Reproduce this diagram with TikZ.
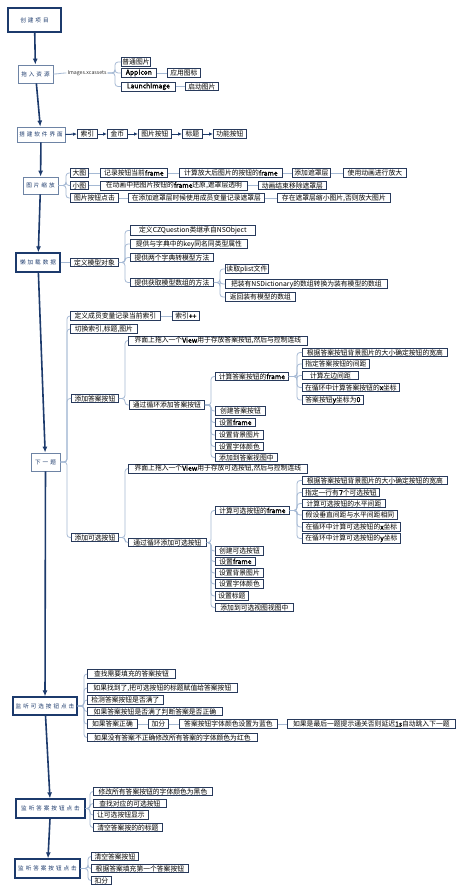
\documentclass[tikz,border=0pt]{standalone}
\usepackage{fontspec}
\setmainfont{Noto Sans CJK SC}[AutoFakeBold=2]
\newfontfamily\mfont{Noto Sans CJK SC}[LetterSpace=35]
\usetikzlibrary{arrows.meta}
\definecolor{navy}{RGB}{28,58,108}
\definecolor{boxline}{RGB}{40,58,92}
\definecolor{conncol}{RGB}{165,185,212}
\definecolor{mlight}{RGB}{110,132,165}
\tikzset{
 cbox/.style={draw=boxline, line width=0.8pt, fill=white, anchor=west, inner sep=1pt, minimum height=8.5pt, font=\fontsize{6.8}{7.5}\selectfont, text=black},
 mbox/.style={draw=navy, line width=1.3pt, fill=white, inner sep=1pt, font=\mfont\fontsize{5.6}{6.5}\selectfont, text=navy},
 mthin/.style={mbox, draw=mlight, line width=0.8pt},
 conn/.style={draw=conncol, line width=0.8pt, rounded corners=3pt},
 marrow/.style={draw=navy, line width=1.6pt, -{Latex[length=6pt,width=5pt]}},
 sarrow/.style={draw=navy, line width=1pt, -{Latex[length=4pt,width=3.5pt]}},
 lbl/.style={font=\fontsize{5.2}{6}\selectfont, text=black!80, inner sep=1pt}
}
\newcommand\mkbox[5]{\node[cbox, minimum width=#4pt] (#1) at (#2,#3) {#5};}
\newcommand\brc[3]{\draw[conn] (#1.east) -- (#3,0 |- #1.east) |- (#2.west);}
\newcommand\lnk[2]{\draw[conn] (#1.east) -- (#2.west);}
\begin{document}
\begin{tikzpicture}[x=1pt,y=-1pt]
\useasboundingbox (0,0) rectangle (464,894);
\fill[white] (0,0) rectangle (464,894);
% main nodes
\node[mbox, minimum width=53pt, minimum height=24pt, line width=1.8pt] (m1) at (34.5,20) {创建项目};
\node[mthin, minimum width=35pt, minimum height=18pt] (m2) at (35.5,74) {拖入资源};
\node[mthin, minimum width=48pt, minimum height=15pt] (m3) at (41,134.5) {搭建软件界面};
\node[mthin, minimum width=35pt, minimum height=17pt] (m4) at (40.5,185.5) {图片缩放};
\node[mbox, minimum width=44pt, minimum height=19pt] (m5) at (38,262.5) {懒加载数据};
\node[mthin, minimum width=29pt, minimum height=18pt] (m6) at (45.5,462) {下一题};
\node[mbox, minimum width=64pt, minimum height=18pt] (m7) at (45,706) {监听可选按钮点击};
\node[mbox, minimum width=69pt, minimum height=19pt] (m8) at (50.5,808.5) {监听答案按钮点击};
\node[mbox, minimum width=65pt, minimum height=19pt] (m9) at (47.5,868.5) {监听答案按钮点击};
\draw[marrow] (m1) -- (m2);
\draw[marrow] (m2) -- (m3);
\draw[marrow] (m3) -- (m4);
\draw[marrow] (m4) -- (m5);
\draw[marrow] (m5) -- (m6);
\draw[marrow] (m6) -- (m7);
\draw[marrow] (m7) -- (m8);
\draw[marrow] (m8) -- (m9);
% branch A
\node[lbl] (xc) at (87,73) {Images.xcassets};
\draw[conn] (m2.east) to[out=0,in=180] (xc.west);
\mkbox{a1}{121}{62}{27}{普通图片}
\mkbox{a2}{121}{73}{35}{\textbf{AppIcon}}
\mkbox{a3}{121}{86.5}{54}{\textbf{LaunchImage}}
\mkbox{a4}{167}{73}{33}{应用图标}
\mkbox{a5}{185}{86.5}{33}{启动图片}
\brc{xc}{a1}{115}\brc{xc}{a2}{115}\brc{xc}{a3}{115}
\lnk{a2}{a4}\lnk{a3}{a5}
% branch B
\mkbox{b1}{77}{134}{20}{索引}
\mkbox{b2}{107}{134}{20}{金币}
\mkbox{b3}{138}{134}{33}{图片按钮}
\mkbox{b4}{182}{134}{20}{标题}
\mkbox{b5}{213}{134}{33}{功能按钮}
\draw[sarrow] (m3.east) -- (b1.west);
\draw[sarrow] (b1.east) -- (b2.west);
\draw[sarrow] (b2.east) -- (b3.west);
\draw[sarrow] (b3.east) -- (b4.west);
\draw[sarrow] (b4.east) -- (b5.west);
% branch C
\mkbox{c1}{70}{173}{18}{大图}
\mkbox{c2}{70}{185.5}{18}{小图}
\mkbox{c3}{70}{198}{48}{图片按钮点击}
\brc{m4}{c1}{66}\brc{m4}{c2}{66}\brc{m4}{c3}{66}
\mkbox{c11}{100}{173}{67}{记录按钮当前\textbf{frame}}
\mkbox{c12}{179}{173}{103}{计算放大后图片的按钮的\textbf{frame}}
\mkbox{c13}{292}{173}{38}{添加遮罩层}
\mkbox{c14}{343}{173}{63}{使用动画进行放大}
\lnk{c1}{c11}\lnk{c11}{c12}\lnk{c12}{c13}\lnk{c13}{c14}
\mkbox{c21}{100}{185.5}{147}{在动画中把图片按钮的\textbf{frame}还原,遮罩层透明}
\mkbox{c22}{258}{185.5}{68}{动画结束移除遮罩层}
\lnk{c2}{c21}\lnk{c21}{c22}
\mkbox{c31}{128}{198}{136}{在添加遮罩层时候使用成员变量记录遮罩层}
\mkbox{c32}{277}{198}{113}{存在遮罩层缩小图片,否则放大图片}
\lnk{c3}{c31}\lnk{c31}{c32}
% branch D
\mkbox{d1}{70}{262.5}{48}{定义模型对象}
\lnk{m5}{d1}
\mkbox{d11}{130}{230.5}{125}{定义CZQuestion类继承自NSObject}
\mkbox{d12}{130}{244}{117}{提供与字典中的key同名同类型属性}
\mkbox{d13}{130}{257.5}{83}{提供两个字典转模型方法}
\mkbox{d14}{130}{282.5}{83}{提供获取模型数组的方法}
\brc{d1}{d11}{125}\brc{d1}{d12}{125}\brc{d1}{d13}{125}\brc{d1}{d14}{125}
\mkbox{d141}{225}{269}{43}{读取plist文件}
\mkbox{d142}{225}{284}{162}{把装有NSDictionary的数组转换为装有模型的数组}
\mkbox{d143}{225}{297}{70}{返回装有模型的数组}
\brc{d14}{d141}{220}\brc{d14}{d142}{220}\brc{d14}{d143}{220}
% branch E
\mkbox{e1}{70}{316}{90}{定义成员变量记录当前索引}
\mkbox{e11}{172}{316}{27}{索引\textbf{++}}
\lnk{e1}{e11}
\mkbox{e2}{70}{329}{67}{切换索引,标题,图片}
\mkbox{e3}{71}{398.5}{47}{添加答案按钮}
\mkbox{e4}{71}{537.5}{47}{添加可选按钮}
\brc{m6}{e1}{67}\brc{m6}{e2}{67}\brc{m6}{e3}{67}\brc{m6}{e4}{67}
\mkbox{e31}{128}{340.5}{179}{界面上拖入一个\textbf{View}用于存放答案按钮,然后与控制连线}
\mkbox{e32}{129}{405}{75}{通过循环添加答案按钮}
\brc{e3}{e31}{125}\brc{e3}{e32}{125}
\mkbox{e321}{215}{376.5}{73}{计算答案按钮的\textbf{frame}}
\mkbox{e322}{215}{411}{50}{创建答案按钮}
\mkbox{e323}{215}{422.5}{40}{设置\textbf{frame}}
\mkbox{e324}{215}{435}{48}{设置背景图片}
\mkbox{e325}{215}{446.5}{48}{设置字体颜色}
\mkbox{e326}{215}{457.5}{62}{添加到答案视图中}
\brc{e32}{e321}{211}\brc{e32}{e322}{211}\brc{e32}{e323}{211}\brc{e32}{e324}{211}\brc{e32}{e325}{211}\brc{e32}{e326}{211}
\mkbox{e3211}{302}{352.5}{145}{根据答案按钮背景图片的大小确定按钮的宽高}
\mkbox{e3212}{302}{364}{67}{指定答案按钮的间距}
\mkbox{e3213}{302}{375.5}{56}{计算左边间距}
\mkbox{e3214}{302}{387.5}{97}{在循环中计算答案按钮的\textbf{x}坐标}
\mkbox{e3215}{302}{400}{61}{答案按钮\textbf{y}坐标为\textbf{0}}
\brc{e321}{e3211}{297}\brc{e321}{e3212}{297}\brc{e321}{e3213}{297}\brc{e321}{e3214}{297}\brc{e321}{e3215}{297}
\mkbox{e41}{128}{468.5}{179}{界面上拖入一个\textbf{View}用于存放可选按钮,然后与控制连线}
\mkbox{e42}{128}{542.5}{78}{通过循环添加可选按钮}
\brc{e4}{e41}{125}\brc{e4}{e42}{125}
\mkbox{e421}{215}{510.5}{74}{计算可选按钮的\textbf{frame}}
\mkbox{e422}{215}{551}{48}{创建可选按钮}
\mkbox{e423}{215}{561.5}{40}{设置\textbf{frame}}
\mkbox{e424}{215}{573}{48}{设置背景图片}
\mkbox{e425}{215}{584}{48}{设置字体颜色}
\mkbox{e426}{215}{596}{33}{设置标题}
\mkbox{e427}{215}{607.5}{78}{添加到可选视图视图中}
\brc{e42}{e421}{211}\brc{e42}{e422}{211}\brc{e42}{e423}{211}\brc{e42}{e424}{211}\brc{e42}{e425}{211}\brc{e42}{e426}{211}\brc{e42}{e427}{211}
\mkbox{e4211}{302}{480.5}{145}{根据答案按钮背景图片的大小确定按钮的宽高}
\mkbox{e4212}{302}{492.5}{77}{指定一行有\textbf{7}个可选按钮}
\mkbox{e4213}{302}{503.5}{83}{计算可选按钮的水平间距}
\mkbox{e4214}{302}{515}{95}{假设垂直间距与水平间距相同}
\mkbox{e4215}{302}{527}{98}{在循环中计算可选按钮的\textbf{x}坐标}
\mkbox{e4216}{302}{538.5}{98}{在循环中计算可选按钮的\textbf{y}坐标}
\brc{e421}{e4211}{297}\brc{e421}{e4212}{297}\brc{e421}{e4213}{297}\brc{e421}{e4214}{297}\brc{e421}{e4215}{297}\brc{e421}{e4216}{297}
% branch F
\mkbox{f1}{87}{674}{88}{查找需要填充的答案按钮}
\mkbox{f2}{87}{688}{150}{如果找到了,把可选按钮的标题赋值给答案按钮}
\mkbox{f3}{87}{700}{76}{检测答案按钮是否满了}
\mkbox{f4}{87}{711.5}{135}{如果答案按钮是否满了判断答案是否正确}
\mkbox{f5}{87}{724}{50}{如果答案正确}
\mkbox{f6}{87}{737.5}{170}{如果没有答案不正确修改所有答案的字体颜色为红色}
\brc{m7}{f1}{84}\brc{m7}{f2}{84}\brc{m7}{f3}{84}\brc{m7}{f4}{84}\brc{m7}{f5}{84}\brc{m7}{f6}{84}
\mkbox{f51}{148}{724}{20}{加分}
\mkbox{f52}{179}{724}{98}{答案按钮字体颜色设置为蓝色}
\mkbox{f53}{287}{724}{168}{如果是最后一题提示通关否则延迟\textbf{1s}自动跳入下一题}
\lnk{f5}{f51}\lnk{f51}{f52}\lnk{f52}{f53}
% branch G
\mkbox{g1}{93}{791.5}{119}{修改所有答案按钮的字体颜色为黑色}
\mkbox{g2}{93}{803.5}{73}{查找对应的可选按钮}
\mkbox{g3}{93}{815}{55}{让可选按钮显示}
\mkbox{g4}{93}{827.5}{69}{清空答案按的的标题}
\brc{m8}{g1}{90}\brc{m8}{g2}{90}\brc{m8}{g3}{90}\brc{m8}{g4}{90}
% branch H
\mkbox{h1}{91}{856.5}{47}{清空答案按钮}
\mkbox{h2}{91}{868.5}{97}{根据答案填充第一个答案按钮}
\mkbox{h3}{91}{880.5}{20}{扣分}
\brc{m9}{h1}{88}\brc{m9}{h2}{88}\brc{m9}{h3}{88}
\end{tikzpicture}
\end{document}
